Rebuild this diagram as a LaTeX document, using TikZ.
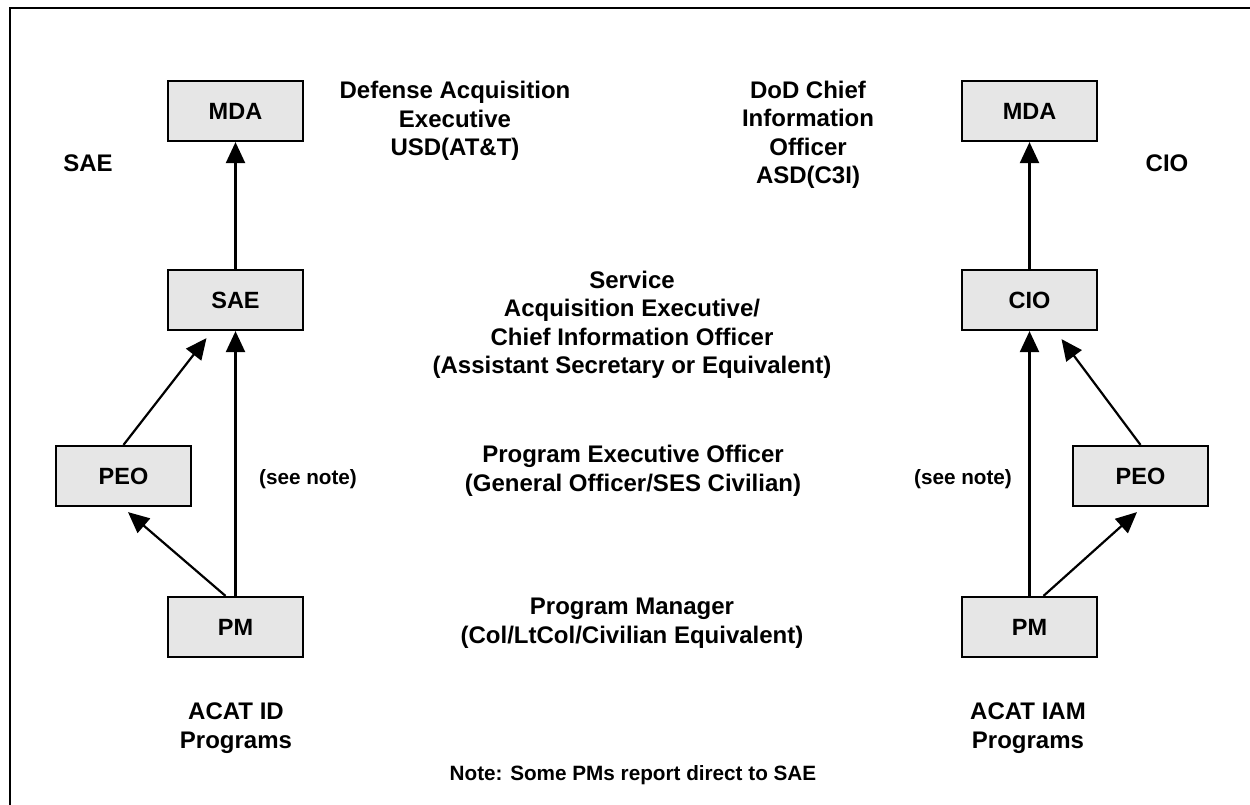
\documentclass[tikz,border=0pt]{standalone}
\usepackage{fontspec}
\setmainfont{Liberation Sans}
\usetikzlibrary{arrows.meta}
\definecolor{boxgray}{HTML}{E6E6E6}
\begin{document}
\begin{tikzpicture}[x=1pt,y=-1pt,
  box/.style={draw=black, line width=2.2pt, fill=boxgray, minimum width=135pt, minimum height=60pt, inner sep=0pt, font=\bfseries\fontsize{23.5}{28}\selectfont},
  lbl/.style={font=\bfseries\fontsize{24}{29.4}\selectfont, align=center, inner sep=0pt},
  clbl/.style={font=\bfseries\fontsize{24}{28.5}\selectfont, align=center, inner sep=0pt},
  smalllbl/.style={font=\bfseries\fontsize{20.7}{24}\selectfont, inner sep=0pt},
  arr/.style={-{Triangle[length=21pt,width=19pt]}, line width=2.2pt},
  frame/.style={line width=2.6pt}
]
\useasboundingbox (0,0) rectangle (1250,805);
\coordinate (fbl) at (10,805);
\coordinate (ftl) at (10,8);
\coordinate (ftr) at (1250,8);
\draw[frame] (fbl) -- (ftl) -- (ftr);

% left column
\node[box] (mdaL) at (235.5,111) {MDA};
\node[box] (saeL) at (235.5,300) {SAE};
\node[box] (peoL) at (123.5,476) {PEO};
\node[box] (pmL)  at (235.5,627) {PM};

% right column
\node[box] (mdaR) at (1029.5,111) {MDA};
\node[box] (cioR) at (1029.5,300) {CIO};
\node[box] (peoR) at (1140.5,476) {PEO};
\node[box] (pmR)  at (1029.5,627) {PM};

% side labels
\node[lbl] (saeside) at (88,163) {SAE};
\node[lbl] (cioside) at (1167,163) {CIO};
\node[smalllbl] (noteL) at (308,479) {(see note)};
\node[smalllbl] (noteR) at (963,479) {(see note)};
\node[lbl] (acatid) at (236,728) {ACAT ID\\Programs};
\node[lbl] (acatiam) at (1028,728) {ACAT IAM\\Programs};

% centre labels
\node[clbl] (dae) at (455,121) {Defense Acquisition\\Executive\\USD(AT\&T)};
\node[clbl] (dodcio) at (808,135) {DoD Chief\\Information\\Officer\\ASD(C3I)};
\node[clbl] (sae) at (632,325) {Service\\Acquisition Executive/\\Chief Information Officer\\(Assistant Secretary or Equivalent)};
\node[clbl] (peo) at (633,471) {Program Executive Officer\\(General Officer/SES Civilian)};
\node[clbl] (pm) at (632,623) {Program Manager\\(Col/LtCol/Civilian Equivalent)};
\node[smalllbl] (note) at (633,775) {Note: Some PMs report direct to SAE};

% connectors left
\draw[arr] (saeL.north) -- (mdaL.south);
\draw[arr] (pmL.north) -- (saeL.south);
\draw[arr] (peoL.north) -- ([xshift=-29pt,yshift=-7pt]saeL.south);
\draw[arr] ([xshift=-10pt]pmL.north) -- ([xshift=4.5pt,yshift=-5pt]peoL.south);

% connectors right
\draw[arr] (cioR.north) -- (mdaR.south);
\draw[arr] (pmR.north) -- (cioR.south);
\draw[arr] (peoR.north) -- ([xshift=32pt,yshift=-8pt]cioR.south);
\draw[arr] ([xshift=14pt]pmR.north) -- ([xshift=-3.5pt,yshift=-5pt]peoR.south);
\end{tikzpicture}
\end{document}
